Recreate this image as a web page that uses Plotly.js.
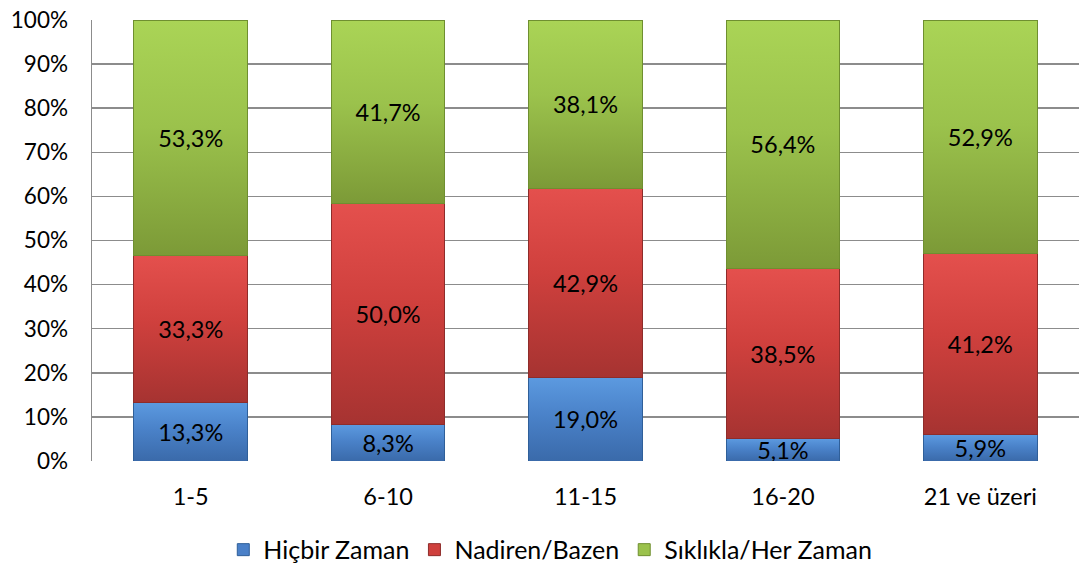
<!DOCTYPE html>
<html>
<head>
<meta charset="utf-8">
<script src="https://cdn.plot.ly/plotly-3.0.1.min.js"></script>
<style>html,body{margin:0;padding:0;background:#fff;}#chart{width:1079px;height:564px;}</style>
</head>
<body>
<div id="chart"></div>
<script>
const categories = ['1-5', '6-10', '11-15', '16-20', '21 ve üzeri'];
const hicbir = [13.3, 8.3, 19.0, 5.1, 5.9];
const nadiren = [33.3, 50.0, 42.9, 38.5, 41.2];
const siklikla = [53.3, 41.7, 38.1, 56.4, 52.9];
const seriesNames = ['Hiçbir Zaman', 'Nadiren/Bazen', 'Sıklıkla/Her Zaman'];
const yTickVals = [0, 10, 20, 30, 40, 50, 60, 70, 80, 90, 100];

const FONT = 'Lato, "Open Sans", sans-serif';
const colors = ['#4a80c8', '#cf403d', '#9bc24c'];
const lines = ['#2f5f99', '#8e2c2a', '#6f8f30'];
const gradStops = [
  ['#5c9ae0', '#4a82c9', '#3a6aaa'],
  ['#e4504d', '#cf403d', '#a63331'],
  ['#aad456', '#9bc24c', '#7c9a37']
];

function mk(vals, i) {
  return {
    type: 'bar', x: categories, y: vals, name: seriesNames[i],
    marker: {color: colors[i], line: {color: lines[i], width: 1}},
    texttemplate: '%{y:.1f}%', textposition: 'inside', insidetextanchor: 'middle',
    textfont: {family: FONT, size: 23.5, color: '#000'},
    constraintext: 'none', hoverinfo: 'skip'
  };
}

const data = [mk(hicbir, 0), mk(nadiren, 1), mk(siklikla, 2)];

const layout = {
  width: 1079, height: 564,
  margin: {l: 92, r: 0, t: 20, b: 103, autoexpand: false},
  barmode: 'stack', bargap: 0.425,
  separators: ',.',
  paper_bgcolor: '#fff', plot_bgcolor: '#fff',
  font: {family: FONT, size: 22, color: '#000'},
  showlegend: true,
  legend: {orientation: 'h', x: 0.51, xref: 'container', xanchor: 'center',
           y: 0.025, yref: 'container', yanchor: 'middle',
           font: {family: FONT, size: 25, color: '#000'}, traceorder: 'normal'},
  xaxis: {type: 'category', showgrid: false, zeroline: false, showline: false, automargin: false,
          ticks: '', ticklabelstandoff: 19, tickfont: {family: FONT, size: 23.5}},
  yaxis: {range: [0, 100], tickvals: yTickVals, ticktext: yTickVals.map(v => v + '%'),
          showgrid: true, gridcolor: '#8c8c8c', gridwidth: 1.5, automargin: false,
          showline: true, linecolor: '#8c8c8c', linewidth: 1.5,
          zeroline: false, ticks: '', ticklabelstandoff: 18,
          tickfont: {family: FONT, size: 22.5}}
};

Plotly.newPlot('chart', data, layout, {staticPlot: true}).then(function (gd) {
  const svg = gd.querySelector('svg.main-svg');
  const ns = 'http://www.w3.org/2000/svg';
  const defs = document.createElementNS(ns, 'defs');
  gradStops.forEach(function (st, i) {
    const g = document.createElementNS(ns, 'linearGradient');
    g.setAttribute('id', 'bg' + i);
    g.setAttribute('x1', '0'); g.setAttribute('y1', '0');
    g.setAttribute('x2', '0'); g.setAttribute('y2', '1');
    [[0, st[0]], [0.45, st[1]], [1, st[2]]].forEach(function (s) {
      const e = document.createElementNS(ns, 'stop');
      e.setAttribute('offset', s[0]);
      e.setAttribute('stop-color', s[1]);
      g.appendChild(e);
    });
    defs.appendChild(g);
  });
  svg.insertBefore(defs, svg.firstChild);
  gd.querySelectorAll('.barlayer .trace.bars').forEach(function (t, i) {
    t.querySelectorAll('.point path').forEach(function (p) {
      p.style.fill = 'url(#bg' + i + ')';
    });
  });
});
</script>
</body>
</html>
